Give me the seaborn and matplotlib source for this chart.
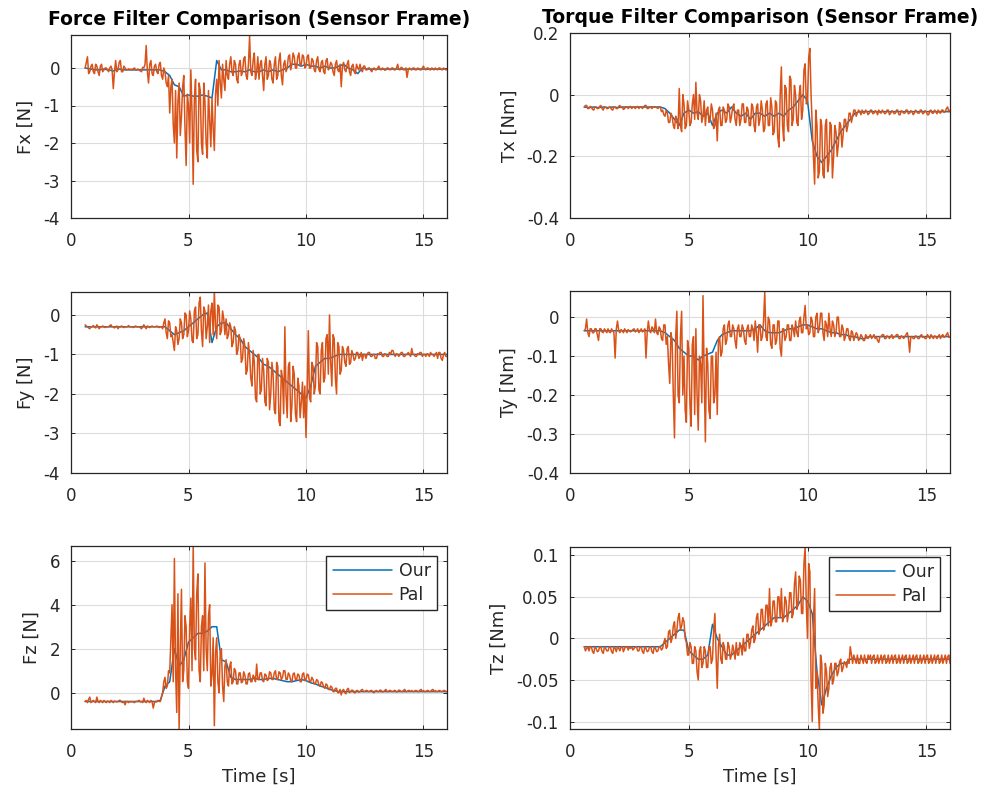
import numpy as np
import pandas as pd
import matplotlib
matplotlib.use("Agg")
import matplotlib.pyplot as plt
import seaborn as sns

# ---------------- data ----------------
t_start, t_end = 0.6, 16.0
dt_pal, dt_our = 0.05, 0.2
t_pal = np.round(np.arange(t_start, t_end + 0.001, dt_pal), 3)   # 309 samples
t_our = np.round(np.arange(t_start, t_end + 0.001, dt_our), 3)   # 78 samples

fx_pal = [
    0.0, 0.15, 0.3, -0.15, -0.1, 0.05, 0.1, -0.1, -0.15, 0.1, 0.05, -0.1, -0.2, 0.05, 0.1, -0.1, -0.05, 0.0, 0.0, -0.05,
    -0.1, 0.0, 0.05, -0.05, -0.55, -0.1, 0.2, -0.1, -0.05, 0.15, 0.2, -0.1, -0.1, 0.05, 0.0, -0.05, -0.05, -0.02, -0.05, -0.03,
    -0.05, -0.02, 0.0, -0.05, -0.05, -0.03, -0.05, -0.08, -0.1, 0.02, 0.0, 0.1, 0.6, -0.1, -0.4, 0.1, 0.2, -0.15, -0.2, 0.05,
    0.1, -0.1, -0.15, 0.1, 0.15, -0.2, -0.3, 0.0, -0.1, -0.4, -0.5, -0.2, -1.2, -0.5, -0.3, -1.5, -2.0, -0.6, -2.4, -0.9,
    -0.4, -1.8, -1.3, -0.5, -0.2, -1.6, -2.6, -0.7, -1.0, -2.0, -0.05, -1.2, -3.1, -0.8, -0.3, -2.2, -2.5, -0.4, -0.6, -2.0,
    -2.3, -0.4, -0.9, -2.0, -2.4, -0.6, -1.4, -2.1, -0.8, -1.6, -2.2, -0.7, -0.3, -1.0, 0.2, -0.4, -0.8, 0.1, -0.3, -0.6,
    0.2, -0.2, -0.3, 0.1, 0.3, -0.1, -0.2, 0.2, 0.1, -0.3, -0.4, 0.1, 0.2, -0.2, -0.1, 0.25, 0.3, -0.2, -0.3, 0.1,
    0.85, -0.1, -0.2, 0.2, 0.4, -0.3, -0.1, 0.3, -0.3, 0.1, 0.2, -0.2, -0.6, 0.1, 0.3, -0.3, -0.2, 0.2, 0.1, -0.3,
    -0.4, 0.1, 0.3, -0.3, -0.2, 0.2, 0.4, -0.2, -0.45, 0.1, 0.2, -0.1, 0.0, 0.3, 0.35, -0.05, 0.1, 0.4, 0.3, 0.0,
    0.0, 0.3, 0.4, 0.05, 0.1, 0.35, 0.3, 0.0, 0.05, 0.3, 0.35, 0.0, 0.0, 0.25, 0.2, -0.05, -0.1, 0.2, 0.3, -0.05,
    -0.1, 0.15, 0.2, -0.1, -0.15, 0.2, 0.25, -0.05, 0.0, 0.15, 0.1, -0.1, -0.2, 0.1, 0.2, -0.05, -0.1, 0.1, -0.5, 0.05,
    0.15, -0.05, -0.1, 0.1, 0.2, -0.1, -0.2, 0.05, 0.1, -0.1, -0.15, 0.1, 0.0, -0.05, 0.1, -0.05, -0.1, 0.05, 0.05, -0.05,
    -0.05, 0.0, 0.0, -0.06, -0.1, -0.02, 0.0, -0.05, -0.05, 0.0, 0.05, -0.04, -0.05, 0.0, -0.02, -0.06, -0.05, 0.0, 0.0, -0.04,
    -0.05, 0.0, 0.0, -0.05, -0.05, 0.0, 0.1, -0.04, -0.05, 0.02, 0.0, -0.05, -0.05, 0.0, -0.25, -0.05, 0.0, -0.04, -0.05, 0.0,
    0.0, -0.05, -0.05, 0.0, -0.02, -0.05, -0.05, 0.0, 0.05, -0.03, -0.05, 0.0, 0.0, -0.04, -0.05, 0.0, -0.02, -0.05, 0.0, -0.03,
    -0.05, 0.0, 0.0, -0.04, -0.05, 0.0, -0.02, -0.05, -0.04,
]
fx_our = [
    0.0, -0.02, -0.05, -0.05, -0.03, -0.05, -0.08, -0.02, -0.05, -0.05,
    -0.05, -0.05, -0.05, -0.05, -0.05, -0.05, -0.05, -0.1, -0.2, -0.45,
    -0.5, -0.75, -0.72, -0.75, -0.75, -0.72, -0.75, -0.8, 0.2, -0.05,
    -0.05, -0.1, -0.1, -0.08, -0.1, -0.05, -0.1, -0.1, -0.05, -0.1,
    -0.05, -0.1, -0.05, 0.0, 0.1, 0.1, 0.05, 0.1, 0.05, 0.05,
    0.0, 0.05, 0.0, 0.0, 0.05, 0.1, 0.0, -0.05, -0.15, 0.0,
    -0.03, -0.03, -0.03, -0.03, -0.03, -0.03, -0.03, -0.03, -0.03, -0.03,
    -0.03, -0.03, -0.03, -0.03, -0.03, -0.03, -0.03, -0.03,
]

tx_pal = [
    -0.04, -0.035, -0.035, -0.045, -0.045, -0.038, -0.04, -0.048, -0.05, -0.04, -0.04, -0.045, -0.045, -0.038, -0.035, -0.045, -0.05, -0.04, -0.04, -0.045,
    -0.045, -0.04, -0.04, -0.048, -0.05, -0.04, -0.04, -0.045, -0.045, -0.038, -0.035, -0.042, -0.04, -0.048, -0.045, -0.04, -0.04, -0.045, -0.04, -0.038,
    -0.045, -0.04, -0.04, -0.045, -0.04, -0.038, -0.045, -0.04, -0.04, -0.045, -0.04, -0.035, -0.035, -0.045, -0.045, -0.04, -0.04, -0.045, -0.04, -0.04,
    -0.04, -0.042, -0.045, -0.04, -0.04, -0.055, -0.05, -0.065, -0.07, -0.05, -0.06, -0.09, -0.09, -0.06, -0.07, -0.1, -0.11, -0.07, -0.08, -0.11,
    0.02, -0.1, -0.12, 0.0, -0.03, -0.11, -0.1, -0.02, -0.05, -0.1, -0.09, -0.03, 0.0, -0.08, 0.04, -0.06, -0.08, 0.0, -0.02, -0.09,
    -0.07, -0.02, -0.1, -0.05, -0.04, -0.09, -0.08, -0.03, -0.05, -0.11, -0.1, -0.06, -0.15, -0.05, -0.04, -0.1, -0.1, -0.04, -0.05, -0.09,
    -0.08, -0.03, -0.04, -0.09, -0.07, -0.04, -0.03, -0.08, -0.1, -0.05, -0.05, -0.1, -0.08, -0.03, -0.03, -0.09, -0.09, -0.04, -0.05, -0.1,
    -0.1, -0.03, -0.04, -0.1, -0.12, -0.04, -0.03, -0.1, -0.08, -0.02, -0.05, -0.12, -0.11, -0.03, -0.02, -0.1, -0.1, -0.01, -0.04, -0.13,
    -0.12, -0.02, -0.03, -0.14, -0.17, 0.0, 0.09, -0.1, -0.15, 0.03, 0.02, -0.1, -0.12, 0.06, 0.05, -0.1, -0.08, 0.03, 0.0, -0.09,
    -0.1, 0.0, 0.03, -0.08, -0.05, 0.08, 0.1, -0.03, -0.02, 0.12, 0.15, 0.0, -0.1, -0.2, -0.29, -0.05, -0.1, -0.27, -0.25, -0.08,
    -0.1, -0.26, -0.27, -0.1, -0.08, -0.25, -0.22, -0.09, -0.1, -0.27, -0.2, -0.1, -0.12, -0.2, -0.16, -0.09, -0.1, -0.17, -0.13, -0.08,
    -0.08, -0.12, -0.1, -0.06, -0.06, -0.09, -0.07, -0.05, -0.05, -0.07, -0.06, -0.05, -0.055, -0.065, -0.05, -0.06, -0.06, -0.05, -0.055, -0.065,
    -0.06, -0.05, -0.05, -0.062, -0.06, -0.052, -0.055, -0.065, -0.05, -0.058, -0.06, -0.05, -0.055, -0.062, -0.06, -0.05, -0.05, -0.065, -0.06, -0.052,
    -0.055, -0.062, -0.06, -0.05, -0.05, -0.065, -0.065, -0.052, -0.055, -0.06, -0.06, -0.05, -0.05, -0.062, -0.06, -0.052, -0.055, -0.065, -0.06, -0.05,
    -0.055, -0.06, -0.06, -0.05, -0.05, -0.062, -0.06, -0.052, -0.055, -0.065, -0.065, -0.052, -0.05, -0.06, -0.06, -0.05, -0.055, -0.062, -0.05, -0.058,
    -0.06, -0.05, -0.05, -0.058, -0.055, -0.045, -0.04, -0.055, -0.05,
]
tx_our = [
    -0.04, -0.042, -0.04, -0.042, -0.04, -0.042, -0.04, -0.042, -0.04, -0.04,
    -0.04, -0.04, -0.04, -0.04, -0.04, -0.04, -0.04, -0.045, -0.06, -0.08,
    -0.1, -0.06, -0.05, -0.06, -0.055, -0.07, -0.06, -0.1, -0.06, -0.05,
    -0.06, -0.04, -0.06, -0.07, -0.06, -0.08, -0.06, -0.06, -0.07, -0.06,
    -0.07, -0.06, -0.07, -0.05, -0.04, -0.02, 0.0, -0.02, -0.15, -0.2,
    -0.22, -0.2, -0.18, -0.15, -0.12, -0.1, -0.08, -0.06, -0.055, -0.055,
    -0.055, -0.055, -0.055, -0.055, -0.055, -0.055, -0.055, -0.055, -0.055, -0.055,
    -0.055, -0.055, -0.055, -0.055, -0.055, -0.055, -0.055, -0.055,
]

fy_pal = [
    -0.25, -0.28, -0.3, -0.33, -0.35, -0.3, -0.3, -0.27, -0.3, -0.33, -0.25, -0.3, -0.35, -0.3, -0.3, -0.28, -0.3, -0.32, -0.3, -0.3,
    -0.3, -0.27, -0.25, -0.3, -0.3, -0.33, -0.3, -0.28, -0.35, -0.3, -0.3, -0.28, -0.3, -0.32, -0.3, -0.3, -0.3, -0.27, -0.3, -0.3,
    -0.3, -0.32, -0.3, -0.28, -0.3, -0.3, -0.3, -0.32, -0.35, -0.3, -0.25, -0.3, -0.35, -0.28, -0.3, -0.32, -0.3, -0.28, -0.3, -0.3,
    -0.3, -0.28, -0.3, -0.32, -0.3, -0.3, -0.35, -0.2, -0.1, -0.45, -0.6, -0.15, -0.2, -0.55, -0.5, -0.7, -0.9, -0.3, -0.4, -0.75,
    -0.6, -0.1, -0.2, -0.6, -0.5, 0.05, 0.0, -0.55, -0.4, 0.1, -0.1, -0.65, -0.7, 0.1, 0.2, -0.6, -0.5, 0.3, 0.45, -0.4,
    -0.8, 0.2, 0.1, -0.6, -0.3, 0.25, -0.7, 0.1, 0.3, -0.5, 0.6, -0.3, -0.6, 0.25, 0.2, -0.5, -0.4, 0.1, -0.1, -0.5,
    -0.1, -0.6, -0.5, -0.2, -0.3, -0.8, -0.7, -0.3, -0.4, -1.0, -0.9, -0.5, -0.6, -1.2, -1.1, -0.6, -0.8, -1.5, -1.4, -0.7,
    -1.0, -1.6, -1.8, -0.9, -1.2, -2.1, -2.2, -1.0, -1.0, -2.0, -1.9, -1.1, -1.4, -2.2, -2.3, -1.1, -1.2, -2.4, -2.0, -1.2,
    -1.5, -2.4, -2.5, -1.2, -1.3, -2.7, -2.8, -1.4, -1.6, -2.5, -0.3, -2.0, -2.6, -1.3, -1.2, -2.7, -2.3, -1.3, -1.5, -2.5,
    -2.7, -1.6, -1.8, -2.6, -2.2, -1.7, -2.6, -1.8, -3.1, -1.9, -0.4, -2.1, -2.2, -1.2, -1.3, -2.0, -1.8, -0.7, -0.8, -1.9,
    -2.0, -0.9, -0.7, -1.7, -1.6, -0.6, -0.5, -1.5, 0.0, -1.2, -1.8, -0.5, -0.6, -1.6, -2.0, -0.7, -0.8, -1.5, -1.4, -0.8,
    -0.9, -1.2, -1.3, -0.85, -0.8, -1.25, -1.2, -0.9, -1.0, -1.15, -1.1, -0.95, -0.95, -1.1, -1.05, -0.95, -1.15, -1.0, -1.0, -1.1,
    -1.0, -0.95, -0.95, -1.05, -1.05, -1.0, -1.0, -1.1, -1.1, -0.98, -1.0, -0.95, -0.95, -1.05, -1.05, -0.98, -1.0, -1.05, -1.05, -0.95,
    -1.0, -0.9, -0.9, -1.0, -1.05, -0.98, -1.0, -1.05, -1.0, -0.95, -0.95, -1.05, -1.05, -1.0, -1.0, -0.95, -1.0, -1.05, -0.85, -1.0,
    -1.0, -1.05, -1.05, -0.98, -1.0, -0.95, -0.95, -1.05, -1.0, -1.0, -1.05, -0.98, -1.0, -1.05, -0.95, -1.0, -1.0, -1.05, -1.0, -0.95,
    -1.1, -0.95, -0.95, -1.1, -1.15, -1.0, -0.95, -1.05, -1.05,
]
fy_our = [
    -0.3, -0.3, -0.3, -0.3, -0.3, -0.3, -0.3, -0.3, -0.3, -0.3,
    -0.3, -0.3, -0.3, -0.3, -0.3, -0.3, -0.3, -0.3, -0.4, -0.5,
    -0.45, -0.4, -0.3, -0.2, -0.1, 0.0, 0.05, -0.7, -0.3, -0.2,
    -0.2, -0.35, -0.5, -0.6, -0.8, -0.9, -1.0, -1.1, -1.25, -1.3,
    -1.4, -1.5, -1.6, -1.7, -1.8, -1.9, -2.0, -2.1, -1.8, -1.3,
    -1.2, -1.1, -1.1, -1.05, -1.0, -1.0, -1.0, -1.0, -1.0, -1.0,
    -1.0, -1.0, -1.0, -1.0, -1.0, -1.0, -1.0, -1.0, -1.0, -1.0,
    -1.0, -1.0, -1.0, -1.0, -1.0, -1.0, -1.0, -1.0,
]

ty_pal = [
    -0.035, -0.03, -0.005, -0.04, -0.05, -0.03, -0.03, -0.04, -0.04, -0.03, -0.03, -0.045, -0.06, -0.03, -0.03, -0.038, -0.04, -0.03, -0.035, -0.04,
    -0.03, -0.038, -0.04, -0.03, -0.035, -0.04, -0.105, -0.03, -0.01, -0.035, -0.04, -0.032, -0.035, -0.04, -0.03, -0.035, -0.04, -0.032, -0.035, -0.038,
    -0.035, -0.032, -0.03, -0.038, -0.035, -0.03, -0.04, -0.035, -0.03, -0.038, -0.035, -0.03, -0.105, -0.04, -0.01, -0.035, -0.04, -0.025, -0.03, -0.04,
    -0.005, -0.04, -0.045, -0.025, -0.03, -0.055, -0.06, -0.02, -0.02, -0.07, -0.05, -0.12, -0.17, -0.04, -0.06, -0.2, -0.31, -0.05, 0.015, -0.2,
    -0.22, -0.05, 0.015, -0.2, -0.1, -0.24, -0.27, -0.06, -0.08, -0.22, -0.28, -0.07, -0.05, -0.25, -0.03, -0.2, -0.29, -0.1, -0.12, -0.22,
    0.055, -0.15, -0.32, -0.08, -0.12, -0.24, -0.26, -0.1, -0.1, -0.22, -0.2, -0.09, -0.25, -0.06, -0.05, -0.1, -0.09, -0.03, -0.02, -0.07,
    -0.06, -0.02, -0.01, -0.05, -0.05, -0.02, -0.03, -0.06, -0.08, -0.03, -0.02, -0.05, -0.05, -0.02, -0.03, -0.06, -0.07, -0.03, -0.02, -0.05,
    -0.05, -0.02, -0.03, -0.06, -0.01, -0.04, -0.09, -0.02, -0.02, -0.06, -0.05, -0.01, 0.065, -0.05, -0.06, 0.0, -0.01, -0.07, -0.08, -0.02,
    -0.02, -0.07, -0.06, -0.01, -0.01, -0.08, -0.1, -0.03, -0.03, -0.06, -0.05, -0.02, -0.02, -0.06, -0.06, -0.02, -0.03, -0.05, -0.01, -0.04,
    -0.05, -0.01, 0.0, -0.04, -0.04, 0.0, 0.03, -0.03, -0.02, -0.045, -0.04, 0.0, -0.01, -0.05, -0.05, 0.0, 0.01, -0.04, -0.03, 0.01,
    0.01, -0.04, -0.06, -0.01, -0.02, -0.05, 0.01, -0.03, -0.05, -0.01, -0.02, -0.05, -0.04, 0.0, 0.0, -0.05, -0.05, -0.02, -0.03, -0.06,
    -0.05, -0.03, -0.03, -0.055, -0.06, -0.035, -0.04, -0.06, -0.05, -0.04, -0.045, -0.06, -0.055, -0.045, -0.05, -0.06, -0.06, -0.045, -0.05, -0.055,
    -0.05, -0.045, -0.055, -0.05, -0.045, -0.055, -0.05, -0.06, -0.065, -0.05, -0.05, -0.045, -0.045, -0.055, -0.055, -0.048, -0.05, -0.055, -0.05, -0.045,
    -0.055, -0.05, -0.05, -0.045, -0.045, -0.055, -0.055, -0.048, -0.05, -0.055, -0.05, -0.045, -0.04, -0.055, -0.09, -0.05, -0.05, -0.055, -0.055, -0.048,
    -0.05, -0.055, -0.055, -0.048, -0.045, -0.052, -0.05, -0.055, -0.055, -0.045, -0.05, -0.055, -0.045, -0.05, -0.055, -0.048, -0.05, -0.055, -0.05, -0.045,
    -0.055, -0.048, -0.045, -0.052, -0.05, -0.045, -0.04, -0.052, -0.05,
]
ty_our = [
    -0.035, -0.035, -0.035, -0.035, -0.035, -0.035, -0.035, -0.035, -0.035, -0.035,
    -0.035, -0.035, -0.035, -0.035, -0.035, -0.035, -0.035, -0.04, -0.05, -0.06,
    -0.08, -0.09, -0.1, -0.1, -0.11, -0.1, -0.095, -0.09, -0.06, -0.045,
    -0.04, -0.035, -0.035, -0.035, -0.035, -0.035, -0.03, -0.02, -0.035, -0.04,
    -0.04, -0.04, -0.035, -0.03, -0.03, -0.025, -0.02, -0.02, -0.025, -0.03,
    -0.03, -0.035, -0.04, -0.04, -0.045, -0.045, -0.05, -0.05, -0.055, -0.055,
    -0.05, -0.05, -0.05, -0.05, -0.05, -0.05, -0.05, -0.05, -0.05, -0.05,
    -0.05, -0.05, -0.05, -0.05, -0.05, -0.05, -0.05, -0.05,
]

fz_pal = [
    -0.4, -0.35, -0.45, -0.3, -0.2, -0.45, -0.4, -0.35, -0.4, -0.45, -0.2, -0.4, -0.45, -0.35, -0.4, -0.45, -0.35, -0.4, -0.45, -0.38,
    -0.4, -0.45, -0.35, -0.4, -0.45, -0.38, -0.4, -0.42, -0.4, -0.35, -0.35, -0.42, -0.45, -0.4, -0.55, -0.4, -0.4, -0.45, -0.4, -0.42,
    -0.4, -0.42, -0.45, -0.4, -0.4, -0.38, -0.35, -0.42, -0.4, -0.45, -0.25, -0.4, -0.45, -0.35, -0.4, -0.45, -0.35, -0.4, -0.7, -0.45,
    -0.4, -0.42, -0.35, -0.4, -0.4, -0.2, 0.0, 0.5, 0.7, 0.2, 0.3, 1.0, 0.9, 2.5, 4.0, 0.5, 6.1, 1.0, -0.9, 4.5,
    -1.7, 2.0, 4.7, 0.5, 1.0, 3.5, 3.0, 0.5, 0.2, 3.0, 4.3, 1.0, 6.7, 2.0, 1.5, 4.5, 5.4, 1.0, 0.5, 3.0,
    3.5, 1.0, 5.9, 2.0, 1.0, 3.5, 4.0, 0.3, 0.8, 2.5, -1.5, 1.8, 2.5, 0.5, 0.0, 1.8, 2.0, 0.3, -0.4, 1.2,
    1.5, 0.5, 0.3, 1.2, 1.4, 0.4, 0.5, 1.1, 1.0, 0.4, 0.4, 0.9, 0.9, 0.45, 0.5, 0.95, 0.8, 0.4, 0.4, 0.85,
    0.9, 0.5, 0.5, 0.8, 0.7, 0.5, 1.3, 0.6, 0.6, 0.9, 0.9, 0.55, 0.5, 0.85, 0.8, 0.55, 0.6, 0.95, 0.9, 0.6,
    0.6, 0.9, 1.0, 0.6, 0.6, 0.95, 0.9, 0.6, 0.7, 1.0, 1.0, 0.6, 0.6, 0.9, 0.8, 0.55, 0.5, 0.85, 0.9, 0.6,
    0.6, 0.85, 0.8, 0.5, 0.5, 0.85, 0.9, 0.55, 0.6, 0.85, 0.8, 0.5, 0.5, 0.7, 0.6, 0.4, 0.4, 0.6, 0.55, 0.35,
    0.3, 0.5, 0.45, 0.25, 0.2, 0.4, 0.35, 0.15, 0.15, 0.3, 0.25, 0.05, 0.05, 0.2, 0.2, 0.0, 0.0, 0.15, -0.1, 0.1,
    0.15, 0.0, -0.05, 0.15, 0.2, 0.0, 0.05, 0.12, 0.1, 0.0, 0.0, 0.1, 0.1, 0.02, 0.05, 0.12, 0.15, 0.05, 0.05, 0.1,
    0.1, 0.05, 0.05, 0.1, 0.1, 0.02, 0.0, 0.08, 0.1, 0.05, 0.05, 0.12, 0.1, 0.03, 0.05, 0.1, 0.15, 0.05, 0.05, 0.1,
    0.1, 0.05, 0.05, 0.1, 0.1, 0.03, 0.05, 0.12, 0.1, 0.05, 0.05, 0.1, 0.15, 0.05, 0.05, 0.1, 0.1, 0.05, 0.1, 0.05,
    0.05, 0.1, 0.1, 0.05, 0.05, 0.12, 0.15, 0.05, 0.1, 0.05, 0.05, 0.1, 0.1, 0.05, 0.05, 0.12, 0.15, 0.05, 0.1, 0.05,
    0.05, 0.1, 0.1, 0.05, 0.05, 0.1, 0.1, 0.05, 0.05,
]
fz_our = [
    -0.4, -0.4, -0.4, -0.4, -0.4, -0.4, -0.4, -0.4, -0.4, -0.4,
    -0.4, -0.4, -0.4, -0.4, -0.4, -0.4, -0.35, 0.3, 0.5, 2.0,
    1.2, 1.5, 2.3, 2.5, 2.7, 2.7, 2.8, 3.0, 3.0, 1.5,
    1.4, 0.7, 0.6, 0.6, 0.6, 0.6, 0.65, 0.6, 0.6, 0.65,
    0.65, 0.6, 0.55, 0.5, 0.5, 0.55, 0.6, 0.55, 0.45, 0.4,
    0.3, 0.25, 0.15, 0.1, 0.05, 0.05, 0.05, 0.05, 0.05, 0.05,
    0.05, 0.05, 0.05, 0.05, 0.05, 0.05, 0.05, 0.05, 0.05, 0.05,
    0.05, 0.05, 0.05, 0.05, 0.05, 0.05, 0.05, 0.05,
]

tz_pal = [
    -0.01, -0.015, -0.012, -0.01, -0.015, -0.01, -0.01, -0.016, -0.018, -0.01, -0.012, -0.016, -0.015, -0.01, -0.01, -0.016, -0.018, -0.01, -0.012, -0.015,
    -0.015, -0.01, -0.01, -0.016, -0.018, -0.01, -0.012, -0.016, -0.01, -0.012, -0.015, -0.01, -0.01, -0.016, -0.012, -0.01, -0.01, -0.014, -0.01, -0.012,
    -0.01, -0.014, -0.012, -0.01, -0.01, -0.015, -0.015, -0.01, -0.01, -0.016, -0.018, -0.01, -0.012, -0.016, -0.015, -0.01, -0.01, -0.016, -0.018, -0.01,
    -0.012, -0.016, -0.015, -0.01, -0.01, -0.014, -0.012, -0.005, 0.0, -0.012, -0.01, 0.008, 0.01, -0.005, 0.0, 0.015, 0.02, 0.0, 0.01, 0.025,
    0.03, 0.01, 0.015, 0.025, 0.02, 0.0, -0.005, -0.02, -0.02, -0.005, -0.01, -0.03, -0.03, -0.01, -0.015, -0.04, -0.05, -0.015, -0.01, -0.035,
    -0.03, -0.01, -0.015, -0.035, -0.035, -0.01, -0.01, -0.03, -0.025, 0.01, 0.03, -0.02, -0.06, -0.01, 0.005, -0.025, -0.03, -0.005, -0.01, -0.025,
    -0.025, -0.005, -0.01, -0.025, -0.02, -0.008, -0.015, -0.025, -0.005, -0.02, -0.02, -0.005, -0.01, -0.02, 0.0, -0.015, -0.015, 0.005, 0.005, -0.012,
    -0.005, 0.01, 0.015, -0.005, 0.0, 0.025, 0.03, 0.005, 0.01, 0.035, 0.035, 0.01, 0.015, 0.04, 0.04, 0.015, 0.06, 0.015, 0.02, 0.045,
    0.045, 0.02, 0.02, 0.05, 0.05, 0.025, 0.06, 0.02, 0.025, 0.05, 0.045, 0.02, 0.03, 0.055, 0.055, 0.025, 0.03, 0.065, 0.08, 0.035,
    0.04, 0.075, 0.07, 0.03, 0.03, 0.09, 0.11, 0.04, 0.0, 0.09, 0.08, -0.05, -0.1, 0.02, 0.06, -0.06, -0.04, -0.08, -0.11, -0.02,
    -0.03, -0.09, -0.08, -0.03, -0.04, -0.07, -0.06, -0.035, -0.03, -0.055, -0.05, -0.03, -0.03, -0.045, -0.04, -0.028, -0.025, -0.04, -0.035, -0.028,
    -0.03, -0.035, -0.025, -0.03, -0.01, -0.02, -0.03, -0.02, -0.025, -0.03, -0.02, -0.03, -0.03, -0.02, -0.025, -0.03, -0.02, -0.028, -0.03, -0.02,
    -0.025, -0.02, -0.03, -0.022, -0.02, -0.03, -0.028, -0.02, -0.03, -0.025, -0.02, -0.03, -0.022, -0.02, -0.03, -0.028, -0.02, -0.03, -0.025, -0.02,
    -0.03, -0.022, -0.02, -0.03, -0.028, -0.02, -0.03, -0.025, -0.02, -0.03, -0.022, -0.02, -0.03, -0.028, -0.02, -0.03, -0.025, -0.02, -0.03, -0.022,
    -0.02, -0.03, -0.028, -0.02, -0.03, -0.025, -0.02, -0.03, -0.022, -0.02, -0.03, -0.028, -0.02, -0.03, -0.025, -0.02, -0.03, -0.022, -0.02, -0.03,
    -0.028, -0.02, -0.03, -0.025, -0.02, -0.03, -0.022, -0.02, -0.03,
]
tz_our = [
    -0.01, -0.01, -0.01, -0.01, -0.01, -0.01, -0.01, -0.01, -0.01, -0.01,
    -0.01, -0.01, -0.01, -0.01, -0.01, -0.01, -0.01, -0.005, 0.0, 0.005,
    0.01, 0.01, -0.015, -0.02, -0.025, -0.025, -0.02, 0.017, 0.0, -0.01,
    -0.02, -0.02, -0.015, -0.01, -0.005, 0.0, 0.005, 0.01, 0.015, 0.02,
    0.025, 0.025, 0.025, 0.03, 0.035, 0.04, 0.05, 0.045, 0.03, -0.04,
    -0.08, -0.06, -0.045, -0.035, -0.03, -0.03, -0.025, -0.025, -0.025, -0.025,
    -0.025, -0.025, -0.025, -0.025, -0.025, -0.025, -0.025, -0.025, -0.025, -0.025,
    -0.025, -0.025, -0.025, -0.025, -0.025, -0.025, -0.025, -0.025,
]

x_ticks = [0, 5, 10, 15]
force_ticks = [-4, -3, -2, -1, 0]
force_labels = ["-4", "-3", "-2", "-1", "0"]
tx_ticks = [-0.4, -0.2, 0, 0.2]
tx_labels = ["-0.4", "-0.2", "0", "0.2"]
ty_ticks = [-0.4, -0.3, -0.2, -0.1, 0]
ty_labels = ["-0.4", "-0.3", "-0.2", "-0.1", "0"]
fz_ticks = [0, 2, 4, 6]
fz_labels = ["0", "2", "4", "6"]
tz_ticks = [-0.1, -0.05, 0, 0.05, 0.1]
tz_labels = ["-0.1", "-0.05", "0", "0.05", "0.1"]

for name, arr, tt in [("fx_pal", fx_pal, t_pal), ("fx_our", fx_our, t_our),
                      ("tx_pal", tx_pal, t_pal), ("tx_our", tx_our, t_our),
                      ("fy_pal", fy_pal, t_pal), ("fy_our", fy_our, t_our),
                      ("ty_pal", ty_pal, t_pal), ("ty_our", ty_our, t_our),
                      ("fz_pal", fz_pal, t_pal), ("fz_our", fz_our, t_our),
                      ("tz_pal", tz_pal, t_pal), ("tz_our", tz_our, t_our)]:
    assert len(arr) == len(tt), f"{name}: {len(arr)} vs {len(tt)}"

# ---------------- style ----------------
sns.set_theme(style="white")
plt.rcParams["font.family"] = ["DejaVu Sans"]
plt.rcParams["axes.unicode_minus"] = False

BLUE = "#0072BD"
ORANGE = "#D95319"
DARK = "#262626"
GRID = "#dcdcdc"

fig = plt.figure(figsize=(9.82, 7.96), dpi=100)

W, H = 982, 796
def rect(x0, x1, y0, y1):
    return [x0 / W, 1 - y1 / H, (x1 - x0) / W, (y1 - y0) / H]

panels = [
    dict(r=rect(71, 447, 35, 218), our=fx_our, pal=fx_pal, ylim=(-4, 0.88),
         yt=force_ticks, yl=force_labels, ylabel="Fx [N]",
         title="Force Filter Comparison (Sensor Frame)"),
    dict(r=rect(570, 950, 33, 218), our=tx_our, pal=tx_pal, ylim=(-0.4, 0.2),
         yt=tx_ticks, yl=tx_labels, ylabel="Tx [Nm]",
         title="Torque Filter Comparison (Sensor Frame)"),
    dict(r=rect(71, 447, 292, 473), our=fy_our, pal=fy_pal, ylim=(-4, 0.58),
         yt=force_ticks, yl=force_labels, ylabel="Fy [N]"),
    dict(r=rect(570, 950, 291, 473), our=ty_our, pal=ty_pal, ylim=(-0.4, 0.067),
         yt=ty_ticks, yl=ty_labels, ylabel="Ty [Nm]"),
    dict(r=rect(71, 447, 546, 729), our=fz_our, pal=fz_pal, ylim=(-1.65, 6.67),
         yt=fz_ticks, yl=fz_labels, ylabel="Fz [N]", xlabel="Time [s]", legend=True),
    dict(r=rect(570, 950, 547, 729), our=tz_our, pal=tz_pal, ylim=(-0.109, 0.11),
         yt=tz_ticks, yl=tz_labels, ylabel="Tz [Nm]", xlabel="Time [s]", legend=True),
]

for p in panels:
    ax = fig.add_axes(p["r"])
    df_our = pd.DataFrame({"t": t_our, "v": p["our"]})
    df_pal = pd.DataFrame({"t": t_pal, "v": p["pal"]})
    sns.lineplot(data=df_our, x="t", y="v", ax=ax, color=BLUE, linewidth=1.1,
                 estimator=None, sort=False, label="Our")
    sns.lineplot(data=df_pal, x="t", y="v", ax=ax, color=ORANGE, linewidth=1.1,
                 estimator=None, sort=False, label="Pal")
    ax.set_xlim(0, 16)
    ax.set_xticks(x_ticks)
    ax.set_xticklabels([str(v) for v in x_ticks])
    ax.set_ylim(*p["ylim"])
    ax.set_yticks(p["yt"])
    ax.set_yticklabels(p["yl"])
    ax.grid(True, color=GRID, linewidth=0.8)
    ax.set_axisbelow(True)
    for s in ax.spines.values():
        s.set_visible(True)
        s.set_color(DARK)
        s.set_linewidth(0.9)
    ax.tick_params(direction="in", length=3, width=0.7, colors=DARK,
                   labelsize=12, top=True, right=True, bottom=True, left=True)
    ax.tick_params(axis="x", pad=10)
    ax.tick_params(axis="y", pad=8)
    ax.set_ylabel(p["ylabel"], fontsize=13, color=DARK, labelpad=6)
    if "xlabel" in p:
        ax.set_xlabel(p["xlabel"], fontsize=13, color=DARK, labelpad=5)
    else:
        ax.set_xlabel("")
    if "title" in p:
        ax.set_title(p["title"], fontsize=13.5, fontweight="bold", color="black", pad=7)
    if p.get("legend"):
        leg = ax.legend(loc="upper right", frameon=True, fancybox=False,
                        edgecolor=DARK, framealpha=1, fontsize=12.5,
                        handlelength=3.4, borderaxespad=0.6,
                        borderpad=0.35, labelspacing=0.3, handletextpad=0.4)
        leg.get_frame().set_linewidth(1.0)
    else:
        lg = ax.get_legend()
        if lg is not None:
            lg.remove()

fig.savefig("out.png", dpi=100)
